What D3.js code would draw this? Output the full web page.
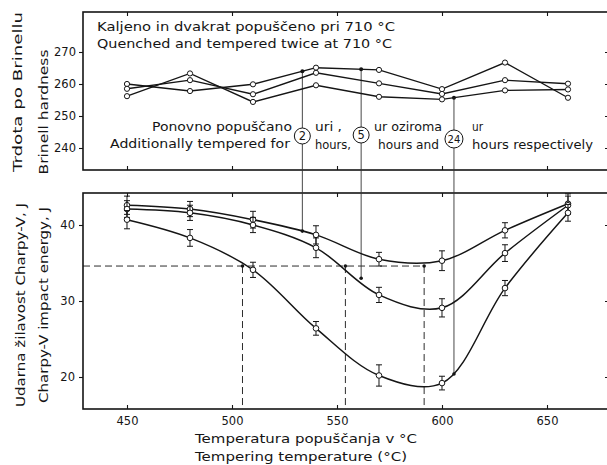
<!DOCTYPE html>
<html><head><meta charset="utf-8">
<script src="https://cdn.jsdelivr.net/npm/d3@7"></script>
<style>
body{margin:0;background:#fff}
svg{display:block}
text{font-family:"DejaVu Sans",sans-serif;fill:#151515}
</style>
</head><body><svg id="c" width="607" height="465"></svg>
<script>
// ---------- data ----------
const temps = [450, 480, 510, 540, 570, 600, 630, 660];
// Brinell hardness (three tempering conditions)
const hbA = [260.0, 257.8, 259.9, 265.1, 264.4, 258.4, 266.7, 255.7];
const hbB = [258.5, 261.2, 256.8, 263.5, 260.2, 256.9, 261.2, 260.1];
const hbC = [256.2, 263.3, 254.4, 259.6, 256.0, 255.2, 258.0, 258.3];
// Charpy-V impact energy, J
const cv2h  = [42.6, 42.1, 40.7, 38.7, 35.5, 35.3, 39.3, 42.8];
const cv5h  = [42.1, 41.6, 40.0, 37.0, 30.8, 29.1, 36.3, 42.6];
const cv24h = [40.7, 38.3, 34.1, 26.4, 20.2, 19.2, 31.7, 41.6];
const err2h  = [1.2, 1.0, 1.1, 1.2, 0.9, 1.3, 1.0, 1.3];
const err5h  = [1.1, 1.0, 1.0, 1.3, 1.0, 1.2, 1.1, 1.2];
const err24h = [1.2, 1.1, 1.0, 0.9, 1.4, 0.9, 1.0, 1.1];
// reference verticals (additional tempering 2, 5, 24 h)
const refTemps = [533.5, 561.5, 605.7];
const refHB    = [264.0, 264.6, 255.7];
const refCV    = [39.2, 33.0, 20.4];
const refLabels = ["2", "5", "24"];
// dashed construction lines
const dashCV = 34.6;
const dashTemps = [505, 554, 591.5];
// ticks
const hbTicks = [240, 250, 260, 270];
const cvTicks = [20, 30, 40];
const tempTicks = [450, 500, 550, 600, 650];

// ---------- scales ----------
const svg = d3.select("#c");
const x = d3.scaleLinear().domain([429.05, 680]).range([83, 610]);
const yT = d3.scaleLinear().domain([233.125, 282.5]).range([170, 12]);
const yB = d3.scaleLinear().domain([15.79, 44.21]).range([409, 193]);

const ink = "#151515";

// ---------- panel frames ----------
[[12, 170], [193, 409]].forEach(([t, b]) => {
  svg.append("rect").attr("x", 83).attr("y", t).attr("width", 527).attr("height", b - t)
    .attr("fill", "none").attr("stroke", ink).attr("stroke-width", 1.6);
});

function styleAxis(g, fs) {
  g.select(".domain").remove();
  g.selectAll("line").attr("stroke", ink).attr("stroke-width", 1.1);
  g.selectAll("text").attr("font-size", fs).attr("fill", ink)
    .attr("font-family", "DejaVu Sans, sans-serif");
}
// left axes
svg.append("g").attr("transform", "translate(83,0)")
  .call(d3.axisLeft(yT).tickValues(hbTicks).tickSize(4).tickPadding(3))
  .call(g => styleAxis(g, "11.5px"));
svg.append("g").attr("transform", "translate(83,0)")
  .call(d3.axisLeft(yB).tickValues(cvTicks).tickSize(4).tickPadding(4))
  .call(g => styleAxis(g, "11.5px"));
// right ticks (inward)
svg.append("g").attr("transform", "translate(610,0)")
  .call(d3.axisRight(yT).tickValues(hbTicks).tickSize(-5).tickFormat(""))
  .call(g => styleAxis(g, "0px"));
svg.append("g").attr("transform", "translate(610,0)")
  .call(d3.axisRight(yB).tickValues(cvTicks).tickSize(-5).tickFormat(""))
  .call(g => styleAxis(g, "0px"));
// x ticks, inward on all horizontal borders
[[12, d3.axisTop], [170, d3.axisBottom], [193, d3.axisTop]].forEach(([yy, ax]) => {
  svg.append("g").attr("transform", `translate(0,${yy})`)
    .call(ax(x).tickValues(tempTicks).tickSize(-4).tickFormat(""))
    .call(g => styleAxis(g, "0px"));
});
svg.append("g").attr("transform", "translate(0,409)")
  .call(d3.axisBottom(x).tickValues(tempTicks).tickSize(-4).tickPadding(8))
  .call(g => styleAxis(g, "11.5px"));

// ---------- dashed construction lines ----------
const dash = svg.append("g").attr("stroke", ink).attr("stroke-width", 0.9)
  .attr("stroke-dasharray", "7,4").attr("fill", "none");
dash.append("line").attr("x1", 83).attr("x2", x(d3.max(dashTemps)))
  .attr("y1", yB(dashCV)).attr("y2", yB(dashCV));
dashTemps.forEach(t => {
  dash.append("line").attr("x1", x(t)).attr("x2", x(t))
    .attr("y1", yB(dashCV)).attr("y2", 409);
});

// ---------- reference verticals ----------
refTemps.forEach((t, i) => {
  svg.append("line").attr("x1", x(t)).attr("x2", x(t))
    .attr("y1", yT(refHB[i])).attr("y2", yB(refCV[i]))
    .attr("stroke", "#333").attr("stroke-width", 0.9);
});

// ---------- hardness lines ----------
const lineT = d3.line().x((d, i) => x(temps[i])).y(d => yT(d));
[hbA, hbB, hbC].forEach(s => {
  svg.append("path").attr("d", lineT(s)).attr("fill", "none")
    .attr("stroke", ink).attr("stroke-width", 1.4);
  svg.append("g").selectAll("circle").data(s).join("circle")
    .attr("cx", (d, i) => x(temps[i])).attr("cy", d => yT(d)).attr("r", 2.6)
    .attr("fill", "#fff").attr("stroke", ink).attr("stroke-width", 1);
});
svg.append("g").selectAll("circle").data(refHB).join("circle")
  .attr("cx", (d, i) => x(refTemps[i])).attr("cy", d => yT(d)).attr("r", 2)
  .attr("fill", ink);

// ---------- impact energy curves ----------
const lineB = d3.line().x((d, i) => x(temps[i])).y(d => yB(d)).curve(d3.curveCatmullRom.alpha(0.5));
[[cv2h, err2h], [cv5h, err5h], [cv24h, err24h]].forEach(([s, e]) => {
  svg.append("path").attr("d", lineB(s)).attr("fill", "none")
    .attr("stroke", ink).attr("stroke-width", 1.5);
  const g = svg.append("g").attr("stroke", ink).attr("stroke-width", 1);
  s.forEach((v, i) => {
    const cx = x(temps[i]);
    g.append("line").attr("x1", cx).attr("x2", cx).attr("y1", yB(v - e[i])).attr("y2", yB(v + e[i]));
    g.append("line").attr("x1", cx - 3).attr("x2", cx + 3).attr("y1", yB(v - e[i])).attr("y2", yB(v - e[i]));
    g.append("line").attr("x1", cx - 3).attr("x2", cx + 3).attr("y1", yB(v + e[i])).attr("y2", yB(v + e[i]));
    g.append("circle").attr("cx", cx).attr("cy", yB(v)).attr("r", 2.8).attr("fill", "#fff");
  });
});
// dots at construction intersections
svg.append("g").selectAll("circle").data(dashTemps).join("circle")
  .attr("cx", d => x(d)).attr("cy", yB(dashCV)).attr("r", 1.8).attr("fill", ink);
svg.append("g").selectAll("circle").data(refCV).join("circle")
  .attr("cx", (d, i) => x(refTemps[i])).attr("cy", d => yB(d)).attr("r", 1.8).attr("fill", ink);

// ---------- texts ----------
function txt(s, xx, yy, opts = {}) {
  const t = svg.append("text").attr("x", xx).attr("y", yy).text(s)
    .attr("font-size", opts.fs || "12px");
  if (opts.len) t.attr("textLength", opts.len).attr("lengthAdjust", "spacingAndGlyphs");
  if (opts.anchor) t.attr("text-anchor", opts.anchor);
  if (opts.rot) t.attr("transform", `rotate(-90,${xx},${yy})`);
  return t;
}
txt("Kaljeno in dvakrat popuščeno pri 710 °C", 97, 31, {fs: "13px", len: 298});
txt("Quenched and tempered twice at 710 °C", 97, 48, {fs: "13px", len: 295});

txt("Ponovno popuščano", 152, 131, {fs: "12px", len: 140});
txt("Additionally tempered for", 110, 148, {fs: "12px", len: 180});
txt("uri ,", 315, 131, {fs: "12px", len: 27});
txt("hours,", 315, 149, {fs: "12px", len: 36});
txt("ur oziroma", 374, 131, {fs: "12px", len: 68});
txt("hours and", 378, 149, {fs: "12px", len: 61});
txt("ur", 472, 131, {fs: "12px", len: 11});
txt("hours respectively", 472, 149, {fs: "12px", len: 121});

const circY = [136, 135, 139];
const circR = [8, 8, 9];
refTemps.forEach((t, i) => {
  svg.append("circle").attr("cx", x(t)).attr("cy", circY[i]).attr("r", circR[i])
    .attr("fill", "#fff").attr("stroke", ink).attr("stroke-width", 1);
  svg.append("text").attr("x", x(t)).attr("y", circY[i] + 4).attr("text-anchor", "middle")
    .attr("font-size", refLabels[i].length > 1 ? "10px" : "11.5px").text(refLabels[i]);
});

txt("Temperatura popuščanja v °C", 195, 443, {fs: "12.5px", len: 222});
txt("Tempering temperature (°C)", 195, 461, {fs: "12.5px", len: 212});

txt("Trdota po Brinellu", 22, 92, {fs: "12.5px", len: 160, anchor: "middle", rot: true});
txt("Brinell hardness", 48, 112, {fs: "12.5px", len: 125, anchor: "middle", rot: true});
txt("Udarna žilavost Charpy-V, J", 25, 305, {fs: "12.5px", len: 204, anchor: "middle", rot: true});
txt("Charpy-V impact energy, J", 48, 305, {fs: "12.5px", len: 196, anchor: "middle", rot: true});
</script>
</body></html>
